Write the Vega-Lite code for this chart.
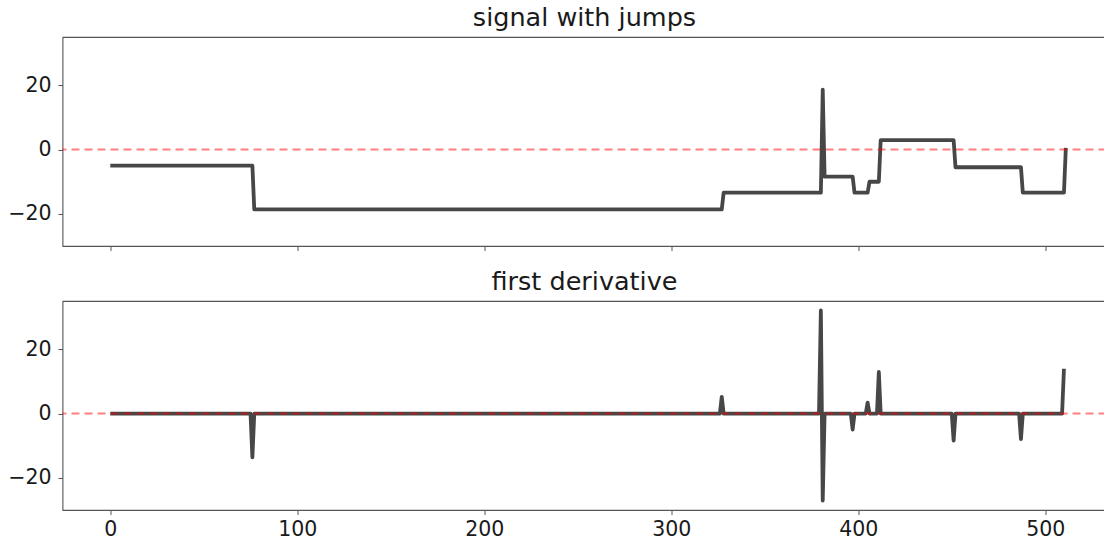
{
  "$schema": "https://vega.github.io/schema/vega-lite/v6.json",
  "padding": {"left": 6.5, "top": 4, "right": 0, "bottom": 0},
  "background": "white",
  "datasets": {
    "signal": [
      {"x": 0, "y": -5}, {"x": 76, "y": -5}, {"x": 77, "y": -18.6}, {"x": 327, "y": -18.6},
      {"x": 328, "y": -13.4}, {"x": 380, "y": -13.4}, {"x": 381, "y": 18.6}, {"x": 382, "y": -8.4},
      {"x": 397, "y": -8.4}, {"x": 398, "y": -13.4}, {"x": 405, "y": -13.4}, {"x": 406, "y": -10.0},
      {"x": 411, "y": -10.0}, {"x": 412, "y": 2.9}, {"x": 451, "y": 2.9}, {"x": 452, "y": -5.5},
      {"x": 487, "y": -5.5}, {"x": 488, "y": -13.4}, {"x": 510, "y": -13.4}, {"x": 511, "y": 0.5}
    ],
    "deriv": [
      {"x": 0, "y": 0}, {"x": 75, "y": 0}, {"x": 76, "y": -13.6}, {"x": 77, "y": 0},
      {"x": 326, "y": 0}, {"x": 327, "y": 5.2}, {"x": 328, "y": 0},
      {"x": 379, "y": 0}, {"x": 380, "y": 32}, {"x": 381, "y": -27}, {"x": 382, "y": 0},
      {"x": 396, "y": 0}, {"x": 397, "y": -5}, {"x": 398, "y": 0},
      {"x": 404, "y": 0}, {"x": 405, "y": 3.4}, {"x": 406, "y": 0},
      {"x": 410, "y": 0}, {"x": 411, "y": 12.9}, {"x": 412, "y": 0},
      {"x": 450, "y": 0}, {"x": 451, "y": -8.4}, {"x": 452, "y": 0},
      {"x": 486, "y": 0}, {"x": 487, "y": -7.9}, {"x": 488, "y": 0},
      {"x": 509, "y": 0}, {"x": 510, "y": 13.9}
    ],
    "zero": [{"y": 0}]
  },
  "config": {
    "view": {"stroke": "#555555", "strokeWidth": 1.1},
    "axis": {
      "grid": false, "domain": false, "title": null,
      "labelFont": "DejaVu Sans", "labelFontSize": 20.5, "labelColor": "#1a1a1a",
      "tickColor": "#555555", "tickSize": 4.5, "labelPadding": 7
    },
    "axisX": {"labelPadding": 5},
    "title": {"font": "DejaVu Sans", "fontSize": 25.5, "fontWeight": "normal", "color": "#1a1a1a", "offset": 6}
  },
  "spacing": 16,
  "vconcat": [
    {
      "title": "signal with jumps",
      "width": 1044, "height": 209,
      "layer": [
        {
          "data": {"name": "signal"},
          "mark": {"type": "line", "color": "#000000", "opacity": 0.72, "strokeWidth": 3.8, "strokeJoin": "round", "clip": true},
          "encoding": {
            "x": {"field": "x", "type": "quantitative", "scale": {"domain": [-25.55, 532.75], "nice": false, "zero": false},
                  "axis": {"values": [0, 100, 200, 300, 400, 500], "labels": false}},
            "y": {"field": "y", "type": "quantitative", "scale": {"domain": [-29.95, 34.95], "nice": false, "zero": false},
                  "axis": {"values": [-20, 0, 20]}}
          }
        },
        {
          "data": {"name": "zero"},
          "mark": {"type": "rule", "color": "#ff0000", "opacity": 0.5, "strokeWidth": 2, "strokeDash": [8, 5]},
          "encoding": {"y": {"field": "y", "type": "quantitative"}}
        }
      ]
    },
    {
      "title": "first derivative",
      "width": 1044, "height": 209,
      "layer": [
        {
          "data": {"name": "deriv"},
          "mark": {"type": "line", "color": "#000000", "opacity": 0.72, "strokeWidth": 3.8, "strokeJoin": "round", "clip": true},
          "encoding": {
            "x": {"field": "x", "type": "quantitative", "scale": {"domain": [-25.55, 532.75], "nice": false, "zero": false},
                  "axis": {"values": [0, 100, 200, 300, 400, 500]}},
            "y": {"field": "y", "type": "quantitative", "scale": {"domain": [-29.95, 34.95], "nice": false, "zero": false},
                  "axis": {"values": [-20, 0, 20]}}
          }
        },
        {
          "data": {"name": "zero"},
          "mark": {"type": "rule", "color": "#ff0000", "opacity": 0.5, "strokeWidth": 2, "strokeDash": [8, 5]},
          "encoding": {"y": {"field": "y", "type": "quantitative"}}
        }
      ]
    }
  ]
}
